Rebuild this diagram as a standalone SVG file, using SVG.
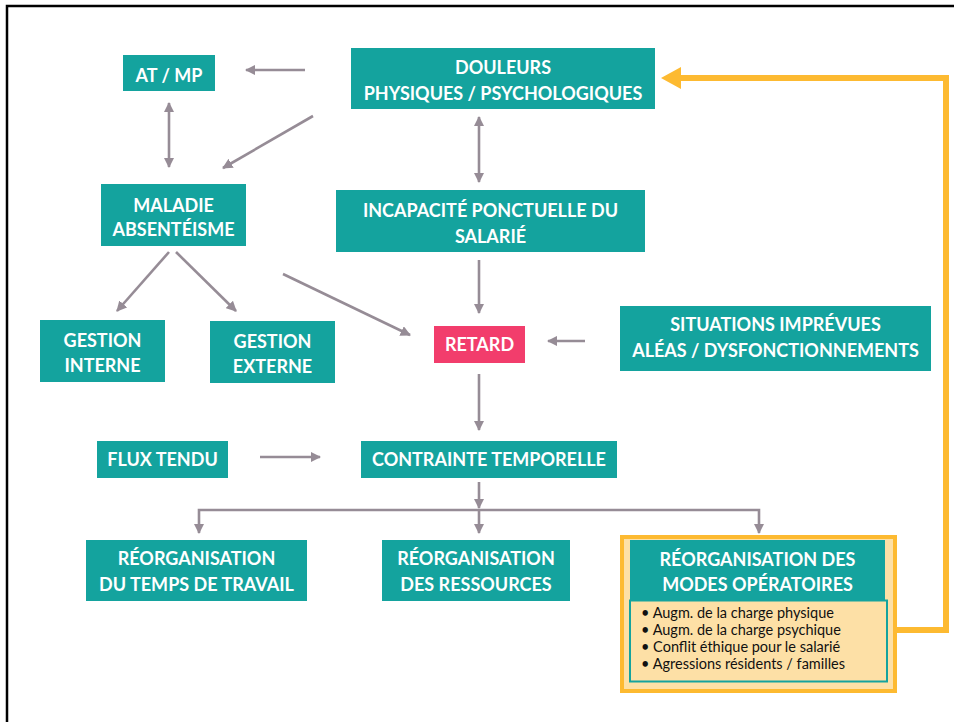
<svg xmlns="http://www.w3.org/2000/svg" width="954" height="722" viewBox="0 0 954 722">
  <style>
    .box { fill: #14A39E; }
    .alert { fill: #F23D6C; }
    .lbl { font-family: Lato, "Open Sans", "Liberation Sans", sans-serif; font-weight: bold; font-size: 18px; fill: #FFFFFF; text-anchor: middle; }
    .item { font-family: Lato, "Open Sans", "Liberation Sans", sans-serif; font-size: 14.5px; fill: #111111; }
    .link { fill: none; stroke: #968C96; stroke-width: 2.6; }
    .loop { fill: none; stroke: #FDBA31; stroke-width: 6; }
  </style>
  <defs>
    <marker id="tip" viewBox="0 0 10 10" refX="9" refY="5" markerWidth="4" markerHeight="4" orient="auto-start-reverse" markerUnits="strokeWidth">
      <path d="M0,0 L10,5 L0,10 z" fill="#968C96"/>
    </marker>
  </defs>

  <rect x="0" y="0" width="954" height="722" fill="#FFFFFF"/>
  <!-- frame: top and left edges -->
  <path d="M7,722 V6 H954" fill="none" stroke="#000000" stroke-width="2.5"/>

  <!-- connectors -->
  <g id="connectors">
    <line class="link" x1="305" y1="70" x2="246" y2="70" marker-end="url(#tip)"/>
    <line class="link" x1="313" y1="116" x2="223" y2="168" marker-end="url(#tip)"/>
    <line class="link" x1="169" y1="103" x2="169" y2="167" marker-start="url(#tip)" marker-end="url(#tip)"/>
    <line class="link" x1="479" y1="117" x2="479" y2="182" marker-start="url(#tip)" marker-end="url(#tip)"/>
    <line class="link" x1="169" y1="252" x2="117" y2="311" marker-end="url(#tip)"/>
    <line class="link" x1="176" y1="252" x2="236" y2="311" marker-end="url(#tip)"/>
    <line class="link" x1="283" y1="274" x2="410" y2="335" marker-end="url(#tip)"/>
    <line class="link" x1="479" y1="260" x2="479" y2="313" marker-end="url(#tip)"/>
    <line class="link" x1="585" y1="341" x2="548" y2="341" marker-end="url(#tip)"/>
    <line class="link" x1="479" y1="374" x2="479" y2="430" marker-end="url(#tip)"/>
    <line class="link" x1="260" y1="457" x2="320" y2="457" marker-end="url(#tip)"/>
    <line class="link" x1="479" y1="482" x2="479" y2="508" marker-end="url(#tip)"/>
    <path class="link" d="M199,533 V510 H759 V533" marker-start="url(#tip)" marker-end="url(#tip)"/>
    <line class="link" x1="479" y1="510" x2="479" y2="533" marker-end="url(#tip)"/>
    <!-- feedback loop back to the pain box -->
    <path class="loop" d="M897,630 H946 V78 H678"/>
    <path d="M661,78 L681,67 L681,89 z" fill="#FDBA31"/>
  </g>

  <g id="at-mp">
    <rect class="box" x="123" y="55" width="92" height="36"/>
    <text class="lbl" x="169" y="82">AT / MP</text>
  </g>
  <g id="douleurs">
    <rect class="box" x="351" y="48" width="304" height="61"/>
    <text class="lbl" x="503" y="74">DOULEURS</text>
    <text class="lbl" x="503" y="100">PHYSIQUES / PSYCHOLOGIQUES</text>
  </g>
  <g id="maladie">
    <rect class="box" x="101" y="184" width="145" height="62"/>
    <text class="lbl" x="173.5" y="212">MALADIE</text>
    <text class="lbl" x="173.5" y="236">ABSENTÉISME</text>
  </g>
  <g id="incapacite">
    <rect class="box" x="336" y="190" width="309" height="62"/>
    <text class="lbl" x="490.5" y="217">INCAPACITÉ PONCTUELLE DU</text>
    <text class="lbl" x="490.5" y="243">SALARIÉ</text>
  </g>
  <g id="gestion-interne">
    <rect class="box" x="40" y="320" width="125" height="62"/>
    <text class="lbl" x="102.5" y="347">GESTION</text>
    <text class="lbl" x="102.5" y="372">INTERNE</text>
  </g>
  <g id="gestion-externe">
    <rect class="box" x="210" y="321" width="125" height="62"/>
    <text class="lbl" x="272.5" y="348">GESTION</text>
    <text class="lbl" x="272.5" y="373">EXTERNE</text>
  </g>
  <g id="retard">
    <rect class="alert" x="434" y="326" width="91" height="37"/>
    <text class="lbl" x="479.5" y="351">RETARD</text>
  </g>
  <g id="situations">
    <rect class="box" x="620" y="306" width="311" height="65"/>
    <text class="lbl" x="775.5" y="331">SITUATIONS IMPRÉVUES</text>
    <text class="lbl" x="775.5" y="357">ALÉAS / DYSFONCTIONNEMENTS</text>
  </g>
  <g id="flux-tendu">
    <rect class="box" x="97" y="441" width="131" height="37"/>
    <text class="lbl" x="162.5" y="466">FLUX TENDU</text>
  </g>
  <g id="contrainte">
    <rect class="box" x="361" y="441" width="256" height="37"/>
    <text class="lbl" x="489" y="466">CONTRAINTE TEMPORELLE</text>
  </g>
  <g id="reorg-temps">
    <rect class="box" x="86" y="540" width="221" height="61"/>
    <text class="lbl" x="196.5" y="565">RÉORGANISATION</text>
    <text class="lbl" x="196.5" y="591">DU TEMPS DE TRAVAIL</text>
  </g>
  <g id="reorg-ressources">
    <rect class="box" x="382" y="540" width="188" height="61"/>
    <text class="lbl" x="476" y="565">RÉORGANISATION</text>
    <text class="lbl" x="476" y="591">DES RESSOURCES</text>
  </g>
  <g id="reorg-modes">
    <rect x="622" y="537" width="273" height="154" fill="#FDE0A6" stroke="#FDBA31" stroke-width="4"/>
    <rect class="box" x="630" y="540" width="255" height="61"/>
    <text class="lbl" x="757.5" y="566">RÉORGANISATION DES</text>
    <text class="lbl" x="757.5" y="591">MODES OPÉRATOIRES</text>
    <rect x="630" y="600.5" width="257" height="81" fill="#FDE0A6" stroke="#14A39E" stroke-width="2"/>
    <text class="item" x="641" y="618">• Augm. de la charge physique</text>
    <text class="item" x="641" y="635">• Augm. de la charge psychique</text>
    <text class="item" x="641" y="652">• Conflit éthique pour le salarié</text>
    <text class="item" x="641" y="669">• Agressions résidents / familles</text>
  </g>
</svg>
